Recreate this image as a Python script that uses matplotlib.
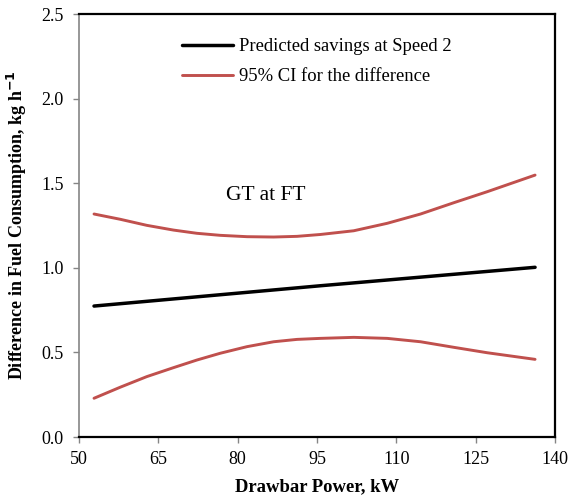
import matplotlib
matplotlib.use("Agg")
import matplotlib.pyplot as plt

plt.rcParams["font.family"] = ["Liberation Serif", "DejaVu Serif"]

# values
power_pred = [52.84, 95.64, 136.23]
savings = [0.774, 0.894, 1.003]

power_ci = [52.84, 57.77, 62.82, 67.87, 72.29, 76.70, 81.76, 86.80, 91.23,
            95.64, 101.95, 108.27, 114.58, 120.89, 127.20, 136.23]
ci_upper = [1.318, 1.287, 1.251, 1.223, 1.204, 1.192, 1.184, 1.182, 1.186,
            1.197, 1.219, 1.263, 1.318, 1.385, 1.450, 1.548]
ci_lower = [0.229, 0.294, 0.357, 0.410, 0.455, 0.495, 0.534, 0.563, 0.577,
            0.583, 0.589, 0.583, 0.563, 0.530, 0.498, 0.459]

red = "#C0504D"
gray = "#858585"

fig = plt.figure(figsize=(5.77, 5.04), dpi=100)
ax = fig.add_axes([0.1369, 0.1329, 0.825, 0.8393])

ax.plot(power_pred, savings, color="black", lw=2.5, solid_capstyle="round",
        label="Predicted savings at Speed 2")
ax.plot(power_ci, ci_upper, color=red, lw=2.1, solid_capstyle="round",
        solid_joinstyle="round", label="95% CI for the difference")
ax.plot(power_ci, ci_lower, color=red, lw=2.1, solid_capstyle="round",
        solid_joinstyle="round")

ax.set_xlim(50, 140)
ax.set_ylim(0, 2.5)
ax.set_xticks(range(50, 141, 15))
ax.set_yticks([0, 0.5, 1.0, 1.5, 2.0, 2.5])
ax.set_yticklabels(["0.0", "0.5", "1.0", "1.5", "2.0", "2.5"])
ax.tick_params(direction="out", length=4, labelsize=13, width=1, color=gray)
ax.tick_params(axis="x", pad=6)
ax.tick_params(axis="y", pad=7)

for side in ["top", "right", "bottom"]:
    ax.spines[side].set_color("black")
    ax.spines[side].set_linewidth(1.6)
ax.spines["left"].set_color(gray)
ax.spines["left"].set_linewidth(1.2)

ax.set_xlabel("Drawbar Power, kW", fontsize=13.4, fontweight="bold")
ax.xaxis.set_label_coords(0.5, -0.098)
ax.set_ylabel("Difference in Fuel Consumption, kg h$^{\\mathbf{-1}}$",
              fontsize=13, fontweight="bold")
ax.yaxis.set_label_coords(-0.105, 0.5)

ax.text(85.4, 1.427, "GT at FT", fontsize=15.5, ha="center", va="center")

ax.legend(loc="upper left", bbox_to_anchor=(0.2164, 0.943), frameon=False,
          borderpad=0, borderaxespad=0, fontsize=13.4, handlelength=2.75,
          handletextpad=0.3, labelspacing=0.7)

fig.savefig("out.png", dpi=100)
